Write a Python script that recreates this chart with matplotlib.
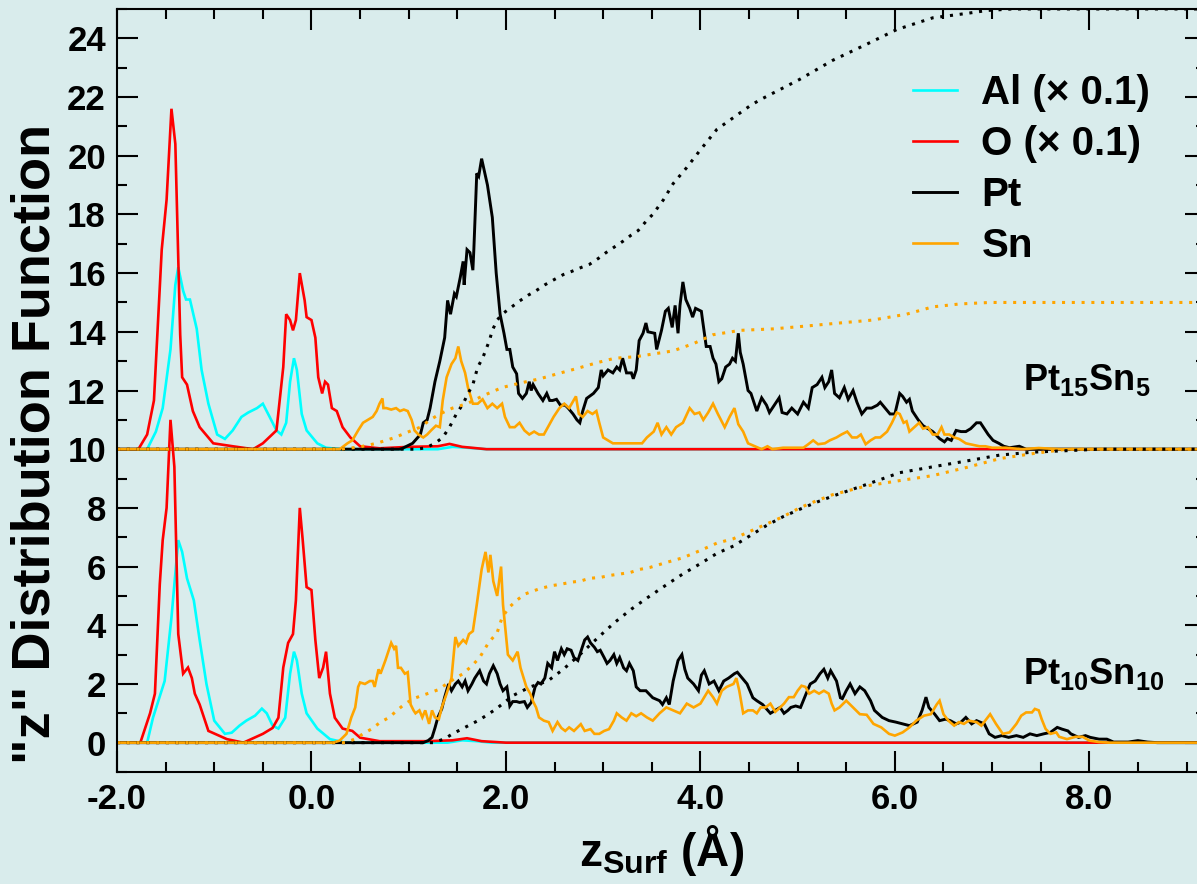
import matplotlib
matplotlib.use("Agg")
import matplotlib.pyplot as plt
import numpy as np

# z distribution functions (values without the panel offset)
# top panel = Pt15Sn5 (offset 10), bottom panel = Pt10Sn10 (offset 0)
top_offset = 10.0
bot_offset = 0.0

top_al = [(-2.0, 0), (-1.69, 0), (-1.60, 0.6), (-1.53, 1.4), (-1.45, 3.4), (-1.40, 5.6), (-1.37, 6.2),
          (-1.32, 5.4), (-1.29, 5.1), (-1.25, 5.1), (-1.18, 4.1), (-1.13, 2.7), (-1.06, 1.55), (-0.97, 0.5),
          (-0.89, 0.35), (-0.81, 0.64), (-0.72, 1.1), (-0.65, 1.25), (-0.56, 1.4), (-0.50, 1.55), (-0.43, 1.1),
          (-0.36, 0.64), (-0.31, 0.5), (-0.26, 0.9), (-0.22, 2.3), (-0.18, 3.1), (-0.15, 2.7), (-0.10, 1.2),
          (-0.05, 0.64), (0.06, 0.2), (0.15, 0.05), (0.30, 0), (1.30, 0), (1.45, 0.08), (1.60, 0.05),
          (1.80, 0), (9.2, 0)]
top_o = [(-2.0, 0), (-1.78, 0), (-1.69, 0.5), (-1.62, 1.66), (-1.54, 6.8), (-1.49, 8.5), (-1.44, 11.6),
         (-1.40, 10.4), (-1.35, 3.9), (-1.33, 2.45), (-1.28, 2.2), (-1.22, 1.3), (-1.15, 0.75), (-1.01, 0.2),
         (-0.81, 0.1), (-0.60, 0.0), (-0.50, 0.2), (-0.36, 0.64), (-0.29, 2.8), (-0.26, 4.6), (-0.22, 4.4),
         (-0.19, 4.05), (-0.16, 4.4), (-0.12, 6.0), (-0.07, 5.07), (-0.05, 4.5), (0.0, 4.4), (0.04, 3.8),
         (0.07, 2.45), (0.11, 1.9), (0.14, 2.3), (0.17, 2.2), (0.21, 1.4), (0.26, 1.3), (0.32, 0.75),
         (0.40, 0.4), (0.50, 0.1), (0.70, 0.03), (1.00, 0.08), (1.30, 0.1), (1.42, 0.18), (1.55, 0.08),
         (1.80, 0.0), (9.2, 0.0)]
top_pt = [(-2.0, 0), (0.90, 0), (0.93, 0.02), (1.04, 0.2), (1.12, 0.5), (1.15, 0.9), (1.19, 1.0), (1.22, 1.4),
          (1.27, 2.3), (1.32, 3.0), (1.37, 3.8), (1.40, 5.07), (1.43, 4.6), (1.47, 5.3), (1.49, 5.2),
          (1.53, 5.85), (1.56, 6.4), (1.57, 5.6), (1.60, 6.8), (1.63, 6.7), (1.66, 6.1), (1.67, 6.8),
          (1.70, 9.4), (1.72, 9.3), (1.75, 9.9), (1.77, 9.6), (1.81, 9.0), (1.86, 7.9), (1.90, 6.0),
          (1.94, 4.6), (1.98, 3.95), (2.01, 3.4), (2.04, 3.4), (2.07, 2.8), (2.11, 2.57), (2.13, 1.9),
          (2.17, 1.73), (2.21, 1.9), (2.24, 2.3), (2.26, 2.0), (2.28, 2.2), (2.33, 1.9), (2.38, 1.66),
          (2.42, 1.9), (2.45, 1.66), (2.48, 1.66), (2.52, 1.7), (2.56, 1.5), (2.61, 1.5), (2.64, 1.4),
          (2.69, 1.2), (2.73, 1.0), (2.76, 0.9), (2.79, 1.3), (2.83, 1.73), (2.90, 1.9), (2.95, 2.1),
          (2.98, 2.7), (3.00, 2.5), (3.05, 2.7), (3.10, 2.6), (3.14, 2.8), (3.17, 2.7), (3.20, 3.1),
          (3.24, 2.6), (3.29, 2.6), (3.31, 2.4), (3.34, 2.7), (3.37, 3.7), (3.41, 3.95), (3.44, 4.3),
          (3.46, 4.0), (3.53, 3.95), (3.55, 3.4), (3.60, 4.05), (3.64, 4.7), (3.67, 4.8), (3.71, 4.15),
          (3.74, 4.9), (3.77, 3.95), (3.79, 4.9), (3.82, 5.7), (3.85, 5.1), (3.89, 4.8), (3.92, 4.5),
          (3.95, 4.8), (4.01, 4.7), (4.02, 4.45), (4.06, 3.5), (4.10, 3.5), (4.13, 3.1), (4.16, 2.9),
          (4.19, 2.3), (4.22, 2.4), (4.26, 2.8), (4.30, 2.9), (4.33, 3.1), (4.36, 3.0), (4.39, 3.95),
          (4.41, 3.3), (4.44, 2.9), (4.49, 2.0), (4.52, 1.9), (4.58, 1.3), (4.63, 1.75), (4.68, 1.5),
          (4.71, 1.25), (4.76, 1.5), (4.81, 1.75), (4.84, 1.25), (4.89, 1.2), (4.94, 1.4), (4.97, 1.3),
          (5.00, 1.2), (5.06, 1.6), (5.11, 1.4), (5.15, 2.1), (5.20, 2.2), (5.25, 2.45), (5.28, 2.1),
          (5.32, 2.3), (5.35, 2.7), (5.38, 1.9), (5.43, 1.75), (5.48, 2.1), (5.52, 1.7), (5.57, 2.0),
          (5.61, 1.6), (5.66, 1.2), (5.71, 1.4), (5.76, 1.4), (5.82, 1.5), (5.85, 1.6), (5.90, 1.4),
          (5.95, 1.2), (6.00, 1.2), (6.05, 1.9), (6.08, 1.8), (6.12, 1.6), (6.15, 1.7), (6.18, 1.3),
          (6.24, 1.0), (6.29, 0.8), (6.34, 0.7), (6.39, 0.6), (6.46, 0.36), (6.51, 0.25), (6.54, 0.36),
          (6.58, 0.3), (6.63, 0.64), (6.68, 0.6), (6.73, 0.6), (6.78, 0.7), (6.84, 0.9), (6.88, 0.9),
          (6.91, 0.75), (6.96, 0.5), (7.01, 0.3), (7.07, 0.2), (7.12, 0.1), (7.18, 0.05), (7.28, 0.1),
          (7.35, 0.0), (9.2, 0.0)]
top_sn = [(-2.0, 0), (0.29, 0), (0.37, 0.2), (0.42, 0.3), (0.48, 0.64), (0.53, 0.9), (0.58, 1.0), (0.63, 1.1),
          (0.67, 1.3), (0.70, 1.55), (0.73, 1.73), (0.74, 1.4), (0.77, 1.4), (0.82, 1.35), (0.87, 1.4),
          (0.91, 1.3), (0.95, 1.35), (0.99, 1.3), (1.03, 1.0), (1.06, 0.64), (1.10, 0.5), (1.15, 0.4),
          (1.19, 0.5), (1.23, 0.64), (1.28, 0.8), (1.32, 0.75), (1.35, 1.66), (1.39, 2.45), (1.44, 2.9),
          (1.48, 3.1), (1.51, 3.5), (1.54, 3.0), (1.58, 2.6), (1.61, 2.1), (1.66, 1.55), (1.71, 1.55),
          (1.76, 1.7), (1.81, 1.4), (1.86, 1.55), (1.91, 1.4), (1.96, 1.55), (1.99, 1.1), (2.04, 0.75),
          (2.09, 0.75), (2.14, 0.9), (2.19, 0.64), (2.24, 0.5), (2.29, 0.6), (2.34, 0.5), (2.39, 0.5),
          (2.44, 0.8), (2.49, 1.1), (2.55, 1.4), (2.60, 1.55), (2.65, 1.4), (2.72, 1.8), (2.75, 1.2),
          (2.79, 1.1), (2.84, 1.3), (2.89, 1.2), (2.93, 1.3), (2.96, 0.9), (3.00, 0.4), (3.05, 0.3),
          (3.10, 0.2), (3.17, 0.2), (3.24, 0.2), (3.29, 0.2), (3.34, 0.2), (3.40, 0.2), (3.45, 0.4),
          (3.52, 0.6), (3.56, 0.9), (3.60, 0.5), (3.65, 0.75), (3.70, 0.5), (3.75, 0.75), (3.82, 0.9),
          (3.89, 1.4), (3.94, 1.2), (3.99, 1.25), (4.03, 1.0), (4.08, 1.25), (4.13, 1.55), (4.18, 1.2),
          (4.25, 0.75), (4.30, 1.1), (4.35, 1.4), (4.39, 0.85), (4.44, 0.6), (4.49, 0.2), (4.56, 0.1),
          (4.63, 0.0), (4.69, 0.1), (4.74, 0.0), (4.85, 0.05), (4.95, 0.05), (5.06, 0.05), (5.11, 0.17),
          (5.16, 0.3), (5.21, 0.17), (5.28, 0.2), (5.33, 0.3), (5.40, 0.4), (5.45, 0.5), (5.51, 0.6),
          (5.56, 0.4), (5.61, 0.4), (5.65, 0.5), (5.70, 0.17), (5.75, 0.3), (5.80, 0.4), (5.85, 0.4),
          (5.92, 0.6), (5.97, 0.9), (6.02, 1.25), (6.05, 1.2), (6.09, 0.9), (6.12, 0.95), (6.15, 0.6),
          (6.20, 0.75), (6.25, 0.9), (6.29, 0.7), (6.34, 0.75), (6.39, 0.5), (6.44, 0.5), (6.48, 0.75),
          (6.51, 0.5), (6.56, 0.5), (6.61, 0.4), (6.66, 0.35), (6.73, 0.2), (6.80, 0.15), (6.87, 0.1),
          (6.93, 0.1), (7.00, 0.05), (7.14, 0.05), (7.31, 0.0), (7.48, 0.04), (7.70, 0.0), (9.2, 0.0)]
# running number of atoms (dotted)
top_pt_cum = [(-2.0, 0), (1.08, 0), (1.18, 0.05), (1.27, 0.2), (1.35, 0.4), (1.42, 0.75), (1.49, 1.2),
              (1.56, 1.55), (1.61, 1.9), (1.66, 2.2), (1.71, 2.8), (1.76, 3.1), (1.83, 3.7), (1.86, 4.05),
              (1.91, 4.4), (1.96, 4.6), (2.06, 4.85), (2.14, 5.05), (2.23, 5.25), (2.31, 5.4), (2.40, 5.6),
              (2.48, 5.75), (2.59, 5.95), (2.67, 6.05), (2.78, 6.2), (2.86, 6.3), (2.95, 6.5), (3.03, 6.7),
              (3.12, 6.9), (3.21, 7.1), (3.29, 7.3), (3.36, 7.45), (3.45, 7.8), (3.51, 8.0), (3.62, 8.5),
              (3.72, 9.05), (3.86, 9.6), (4.00, 10.2), (4.17, 10.9), (4.34, 11.3), (4.51, 11.7), (4.61, 11.9),
              (5.02, 12.6), (5.36, 13.25), (5.71, 13.8), (6.02, 14.3), (6.39, 14.7), (6.74, 14.85),
              (6.95, 14.95), (7.20, 15.0), (9.2, 15.0)]
top_sn_cum = [(-2.0, 0), (0.30, 0), (0.50, 0.08), (0.67, 0.2), (0.86, 0.4), (0.98, 0.57), (1.12, 0.75),
              (1.22, 1.0), (1.32, 1.2), (1.45, 1.4), (1.60, 1.55), (1.77, 1.83), (1.96, 2.1), (2.14, 2.25),
              (2.35, 2.4), (2.53, 2.57), (2.73, 2.75), (2.94, 2.95), (3.12, 3.1), (3.33, 3.15), (3.72, 3.35),
              (3.93, 3.6), (4.13, 3.9), (4.41, 4.05), (4.75, 4.1), (5.10, 4.2), (5.43, 4.3), (5.77, 4.4),
              (6.12, 4.6), (6.39, 4.85), (6.67, 4.95), (6.98, 5.0), (9.2, 5.0)]

bot_al = [(-2.0, 0), (-1.69, 0), (-1.63, 0.85), (-1.51, 2.1), (-1.44, 4.26), (-1.37, 6.9), (-1.33, 6.5),
          (-1.28, 5.6), (-1.21, 4.85), (-1.15, 3.5), (-1.08, 2.0), (-1.00, 0.75), (-0.89, 0.3), (-0.82, 0.34),
          (-0.74, 0.58), (-0.67, 0.75), (-0.58, 0.92), (-0.51, 1.16), (-0.46, 1.0), (-0.40, 0.58),
          (-0.34, 0.48), (-0.27, 0.85), (-0.22, 2.35), (-0.18, 3.1), (-0.15, 2.8), (-0.10, 1.67),
          (-0.05, 1.0), (0.06, 0.48), (0.19, 0.12), (0.35, 0), (1.40, 0), (1.55, 0.08), (1.70, 0.05),
          (1.85, 0), (9.2, 0)]
bot_o = [(-2.0, 0), (-1.76, 0), (-1.66, 1.0), (-1.61, 1.67), (-1.56, 5.4), (-1.53, 6.9), (-1.49, 8.0),
         (-1.45, 11.0), (-1.41, 9.4), (-1.37, 3.7), (-1.32, 2.35), (-1.27, 2.56), (-1.23, 2.2), (-1.20, 1.67),
         (-1.15, 1.3), (-1.06, 0.4), (-0.87, 0.12), (-0.70, 0.0), (-0.50, 0.3), (-0.40, 0.5), (-0.34, 0.85),
         (-0.29, 2.56), (-0.24, 3.4), (-0.19, 3.7), (-0.16, 4.85), (-0.12, 8.0), (-0.09, 6.9), (-0.05, 5.3),
         (0.0, 5.2), (0.04, 3.5), (0.08, 2.2), (0.12, 2.56), (0.15, 3.1), (0.19, 1.67), (0.24, 0.85),
         (0.32, 0.48), (0.42, 0.4), (0.50, 0.17), (0.70, 0.05), (1.20, 0.05), (1.45, 0.08), (1.60, 0.15),
         (1.75, 0.05), (2.00, 0.0), (9.2, 0.0)]
bot_pt = [(-2.0, 0), (1.15, 0), (1.20, 0.07), (1.24, 0.18), (1.27, 0.5), (1.30, 0.86), (1.34, 1.15),
          (1.37, 1.55), (1.41, 2.0), (1.44, 1.77), (1.48, 2.0), (1.51, 2.1), (1.55, 1.9), (1.58, 2.1),
          (1.61, 1.77), (1.65, 2.0), (1.68, 2.2), (1.73, 2.45), (1.77, 2.1), (1.80, 2.0), (1.83, 2.35),
          (1.87, 2.62), (1.91, 2.35), (1.94, 2.0), (1.97, 1.77), (2.01, 1.9), (2.04, 1.25), (2.07, 1.4),
          (2.11, 1.4), (2.14, 1.37), (2.19, 1.4), (2.22, 1.2), (2.26, 1.37), (2.30, 1.9), (2.33, 2.05),
          (2.36, 2.0), (2.40, 2.2), (2.43, 2.7), (2.47, 2.55), (2.50, 3.1), (2.53, 2.8), (2.57, 3.2),
          (2.60, 3.0), (2.63, 3.2), (2.67, 3.15), (2.70, 2.9), (2.74, 2.8), (2.77, 3.1), (2.81, 3.5),
          (2.84, 3.6), (2.87, 3.4), (2.91, 3.25), (2.94, 3.1), (2.97, 3.15), (3.01, 2.9), (3.04, 2.7),
          (3.07, 2.8), (3.11, 3.0), (3.14, 2.7), (3.17, 2.9), (3.21, 2.55), (3.24, 2.45), (3.27, 2.7),
          (3.31, 2.45), (3.34, 1.9), (3.38, 1.77), (3.44, 1.77), (3.51, 1.53), (3.58, 1.43), (3.61, 1.3),
          (3.65, 1.53), (3.68, 1.3), (3.72, 2.1), (3.77, 2.8), (3.81, 3.0), (3.84, 2.5), (3.87, 2.2),
          (3.93, 2.0), (3.98, 1.77), (4.01, 2.3), (4.04, 2.45), (4.09, 2.0), (4.14, 2.1), (4.19, 1.77),
          (4.24, 2.1), (4.29, 2.2), (4.35, 2.35), (4.38, 2.4), (4.43, 2.2), (4.48, 2.0), (4.54, 1.53),
          (4.58, 1.43), (4.64, 1.3), (4.68, 1.15), (4.72, 1.0), (4.77, 1.1), (4.82, 1.2), (4.86, 1.0),
          (4.90, 1.1), (4.93, 1.2), (4.98, 1.25), (5.03, 1.2), (5.10, 1.77), (5.13, 2.0), (5.18, 2.1),
          (5.23, 2.35), (5.27, 2.5), (5.31, 2.2), (5.34, 2.45), (5.40, 2.1), (5.44, 1.53), (5.46, 1.5),
          (5.50, 1.77), (5.54, 2.0), (5.59, 1.67), (5.64, 1.9), (5.69, 1.77), (5.75, 1.43), (5.79, 1.1),
          (5.87, 0.86), (5.94, 0.75), (6.01, 0.7), (6.08, 0.64), (6.15, 0.58), (6.23, 0.7), (6.28, 1.1),
          (6.32, 1.55), (6.35, 1.2), (6.41, 0.97), (6.46, 0.75), (6.52, 0.8), (6.57, 0.75), (6.63, 0.64),
          (6.68, 0.7), (6.73, 0.86), (6.79, 0.64), (6.84, 0.75), (6.92, 0.64), (6.97, 0.3), (7.03, 0.18),
          (7.10, 0.24), (7.17, 0.18), (7.25, 0.24), (7.32, 0.18), (7.39, 0.3), (7.46, 0.24), (7.53, 0.3),
          (7.60, 0.35), (7.67, 0.52), (7.72, 0.46), (7.78, 0.4), (7.81, 0.3), (7.89, 0.18), (7.96, 0.24),
          (8.01, 0.18), (8.10, 0.12), (8.18, 0.12), (8.25, 0.02), (8.40, 0.02), (8.50, 0.07), (8.60, 0.02),
          (8.70, 0.0), (9.2, 0.0)]
bot_sn = [(-2.0, 0), (0.22, 0), (0.29, 0.07), (0.36, 0.3), (0.41, 0.86), (0.45, 1.2), (0.48, 1.9),
          (0.50, 2.05), (0.55, 2.0), (0.60, 2.1), (0.63, 2.1), (0.65, 1.9), (0.69, 2.5), (0.71, 2.35),
          (0.76, 2.8), (0.79, 3.1), (0.82, 3.4), (0.85, 3.2), (0.87, 3.3), (0.89, 2.55), (0.92, 2.55),
          (0.96, 2.35), (0.99, 2.4), (1.02, 1.3), (1.05, 1.1), (1.07, 1.0), (1.11, 1.1), (1.14, 0.86),
          (1.17, 1.1), (1.21, 0.64), (1.24, 1.1), (1.27, 0.86), (1.31, 0.8), (1.34, 1.2), (1.39, 1.67),
          (1.44, 2.2), (1.48, 3.6), (1.51, 3.3), (1.56, 3.5), (1.59, 3.4), (1.62, 3.7), (1.66, 3.8),
          (1.70, 4.7), (1.75, 5.9), (1.79, 6.5), (1.82, 5.8), (1.84, 6.4), (1.87, 5.5), (1.91, 5.0),
          (1.95, 6.0), (1.97, 4.7), (2.02, 3.0), (2.07, 2.8), (2.12, 3.1), (2.15, 2.55), (2.21, 1.9),
          (2.25, 1.67), (2.28, 1.4), (2.31, 1.2), (2.34, 0.86), (2.39, 0.75), (2.44, 0.7), (2.48, 0.4),
          (2.53, 0.7), (2.57, 0.5), (2.61, 0.4), (2.65, 0.52), (2.70, 0.4), (2.77, 0.63), (2.81, 0.4),
          (2.87, 0.46), (2.91, 0.3), (2.96, 0.3), (3.01, 0.4), (3.06, 0.46), (3.11, 0.75), (3.14, 1.0),
          (3.19, 0.86), (3.24, 0.75), (3.29, 1.0), (3.34, 0.9), (3.39, 1.0), (3.45, 0.86), (3.51, 0.75),
          (3.58, 1.0), (3.65, 1.2), (3.72, 1.1), (3.79, 1.0), (3.86, 1.33), (3.93, 1.2), (4.00, 1.33),
          (4.04, 1.55), (4.08, 1.77), (4.13, 1.55), (4.17, 1.33), (4.22, 1.77), (4.27, 1.9), (4.34, 2.0),
          (4.37, 2.2), (4.40, 1.77), (4.44, 1.0), (4.49, 1.1), (4.54, 1.1), (4.58, 1.0), (4.62, 1.2),
          (4.67, 1.2), (4.72, 1.33), (4.77, 1.05), (4.82, 1.2), (4.86, 1.33), (4.91, 1.55), (4.96, 1.55),
          (5.00, 1.77), (5.04, 1.94), (5.08, 1.9), (5.12, 1.67), (5.17, 1.77), (5.22, 1.67), (5.27, 1.77),
          (5.32, 1.67), (5.35, 1.33), (5.38, 1.1), (5.43, 1.2), (5.50, 1.43), (5.57, 1.2), (5.64, 0.97),
          (5.71, 0.95), (5.78, 0.64), (5.86, 0.52), (5.94, 0.3), (6.00, 0.24), (6.08, 0.35), (6.15, 0.52),
          (6.22, 0.75), (6.30, 0.92), (6.37, 0.97), (6.43, 1.3), (6.46, 1.43), (6.50, 0.97), (6.55, 0.75),
          (6.61, 0.58), (6.66, 0.7), (6.71, 0.64), (6.76, 0.75), (6.84, 0.7), (6.89, 0.58), (6.98, 0.97),
          (7.04, 0.64), (7.11, 0.3), (7.18, 0.35), (7.25, 0.64), (7.30, 0.92), (7.35, 1.03), (7.41, 1.03),
          (7.44, 1.15), (7.48, 1.1), (7.51, 0.8), (7.55, 0.47), (7.60, 0.3), (7.66, 0.35), (7.69, 0.2),
          (7.77, 0.12), (7.86, 0.2), (7.93, 0.2), (8.00, 0.07), (8.10, 0.02), (8.20, 0.0), (9.2, 0.0)]
bot_pt_cum = [(-2.0, 0), (1.25, 0), (1.37, 0.13), (1.45, 0.3), (1.55, 0.47), (1.73, 0.78), (1.90, 1.15),
              (2.07, 1.6), (2.25, 1.9), (2.43, 2.1), (2.59, 2.5), (2.76, 3.0), (2.97, 3.65), (3.12, 4.1),
              (3.29, 4.55), (3.46, 4.95), (3.66, 5.4), (3.82, 5.75), (4.00, 6.1), (4.17, 6.45), (4.34, 6.7),
              (4.51, 7.05), (4.68, 7.4), (4.85, 7.7), (5.02, 7.95), (5.20, 8.2), (5.36, 8.4), (5.71, 8.8),
              (6.05, 9.2), (6.39, 9.4), (6.74, 9.6), (7.08, 9.8), (7.42, 9.9), (7.77, 9.95), (8.10, 10.0),
              (9.2, 10.0)]
bot_sn_cum = [(-2.0, 0), (0.35, 0), (0.45, 0.13), (0.53, 0.3), (0.62, 0.47), (0.71, 0.7), (0.80, 0.86),
              (0.88, 1.1), (0.96, 1.32), (1.05, 1.5), (1.13, 1.6), (1.22, 1.7), (1.30, 1.8), (1.39, 2.0),
              (1.48, 2.2), (1.56, 2.35), (1.65, 2.62), (1.73, 2.9), (1.82, 3.4), (1.91, 3.75), (1.96, 4.26),
              (2.03, 4.6), (2.11, 4.85), (2.20, 5.07), (2.35, 5.25), (2.47, 5.35), (2.57, 5.4), (2.67, 5.47),
              (2.76, 5.5), (2.86, 5.6), (2.97, 5.63), (3.07, 5.7), (3.18, 5.75), (3.28, 5.8), (3.37, 5.9),
              (3.48, 5.97), (3.66, 6.15), (3.82, 6.3), (4.00, 6.55), (4.17, 6.8), (4.34, 6.95), (4.51, 7.2),
              (4.68, 7.45), (4.85, 7.7), (5.02, 8.0), (5.20, 8.25), (5.36, 8.45), (5.71, 8.75), (6.05, 8.93),
              (6.39, 9.1), (6.74, 9.38), (7.08, 9.68), (7.42, 9.85), (7.77, 10.0), (9.2, 10.0)]

legend_labels = ["Al (\u00d7 0.1)", "O (\u00d7 0.1)", "Pt", "Sn"]
colors = ["#00ffff", "#ff0000", "#000000", "#ffa500"]
panel_labels = [r"Pt$_{\mathbf{15}}$Sn$_{\mathbf{5}}$", r"Pt$_{\mathbf{10}}$Sn$_{\mathbf{10}}$"]
xticks = [-2, 0, 2, 4, 6, 8]
yticks = list(range(0, 25, 2))

bg = "#d9ecec"
plt.rcParams["font.family"] = ["Liberation Sans", "DejaVu Sans"]
plt.rcParams["font.weight"] = "bold"
plt.rcParams["mathtext.fontset"] = "custom"
plt.rcParams["mathtext.bf"] = "Liberation Sans:bold"
plt.rcParams["mathtext.rm"] = "Liberation Sans:bold"

fig = plt.figure(figsize=(11.97, 8.84), dpi=100, facecolor=bg)
ax = fig.add_axes([117 / 1197, 112 / 884, (1206 - 117) / 1197, (772 - 9) / 884])
ax.set_facecolor(bg)


def xy(pairs, off):
    a = np.array(pairs, dtype=float)
    return a[:, 0], a[:, 1] + off


handles = []
for off, series in [(top_offset, [top_al, top_o, top_pt, top_sn]),
                    (bot_offset, [bot_al, bot_o, bot_pt, bot_sn])]:
    hs = []
    for data, c in zip(series, colors):
        x, y = xy(data, off)
        lw = 2.1 if c == "#000000" else 1.9
        h, = ax.plot(x, y, color=c, lw=lw, solid_joinstyle="miter")
        hs.append(h)
    handles = hs

for off, cums in [(top_offset, [top_pt_cum, top_sn_cum]), (bot_offset, [bot_pt_cum, bot_sn_cum])]:
    for data, c in zip(cums, ["#000000", "#ffa500"]):
        x, y = xy(data, off)
        ax.plot(x, y, color=c, lw=2.2, linestyle=(0, (1, 2.2)))

ax.set_xlim(-2, 9.2)
ax.set_ylim(-1, 25)
ax.set_xticks(xticks)
ax.set_xticklabels(["%.1f" % v for v in xticks])
ax.set_xticks(np.arange(-2, 9.3, 0.5), minor=True)
ax.set_yticks(yticks)
ax.set_yticks(range(-1, 26), minor=True)
ax.tick_params(which="both", direction="in", top=True, right=True, width=1.5,
               labelsize=25, pad=8)
ax.tick_params(which="major", length=15)
ax.tick_params(which="minor", length=7)
for s in ax.spines.values():
    s.set_linewidth(1.5)

ax.legend(handles, legend_labels, loc="upper left", bbox_to_anchor=(913 / 1197, 1 - 74 / 884),
          bbox_transform=fig.transFigure, frameon=False, fontsize=29, handlelength=1.1,
          handletextpad=0.6, labelspacing=0.32, borderpad=0, borderaxespad=0)

ax.text(7.32, 12.0, panel_labels[0], fontsize=26, fontweight="bold")
ax.text(7.32, 2.0, panel_labels[1], fontsize=26, fontweight="bold")

fig.text(36 / 1197, 1 - 444 / 884, '"z" Distribution Function', rotation=90, ha="center",
         va="center", fontsize=39, fontweight="bold")
fig.text(662 / 1197, 1 - 866 / 884, "z$_{\\mathbf{Surf}}$ (\u00c5)",
         ha="center", va="baseline", fontsize=33, fontweight="bold")

fig.savefig("out.png", dpi=100, facecolor=bg)
